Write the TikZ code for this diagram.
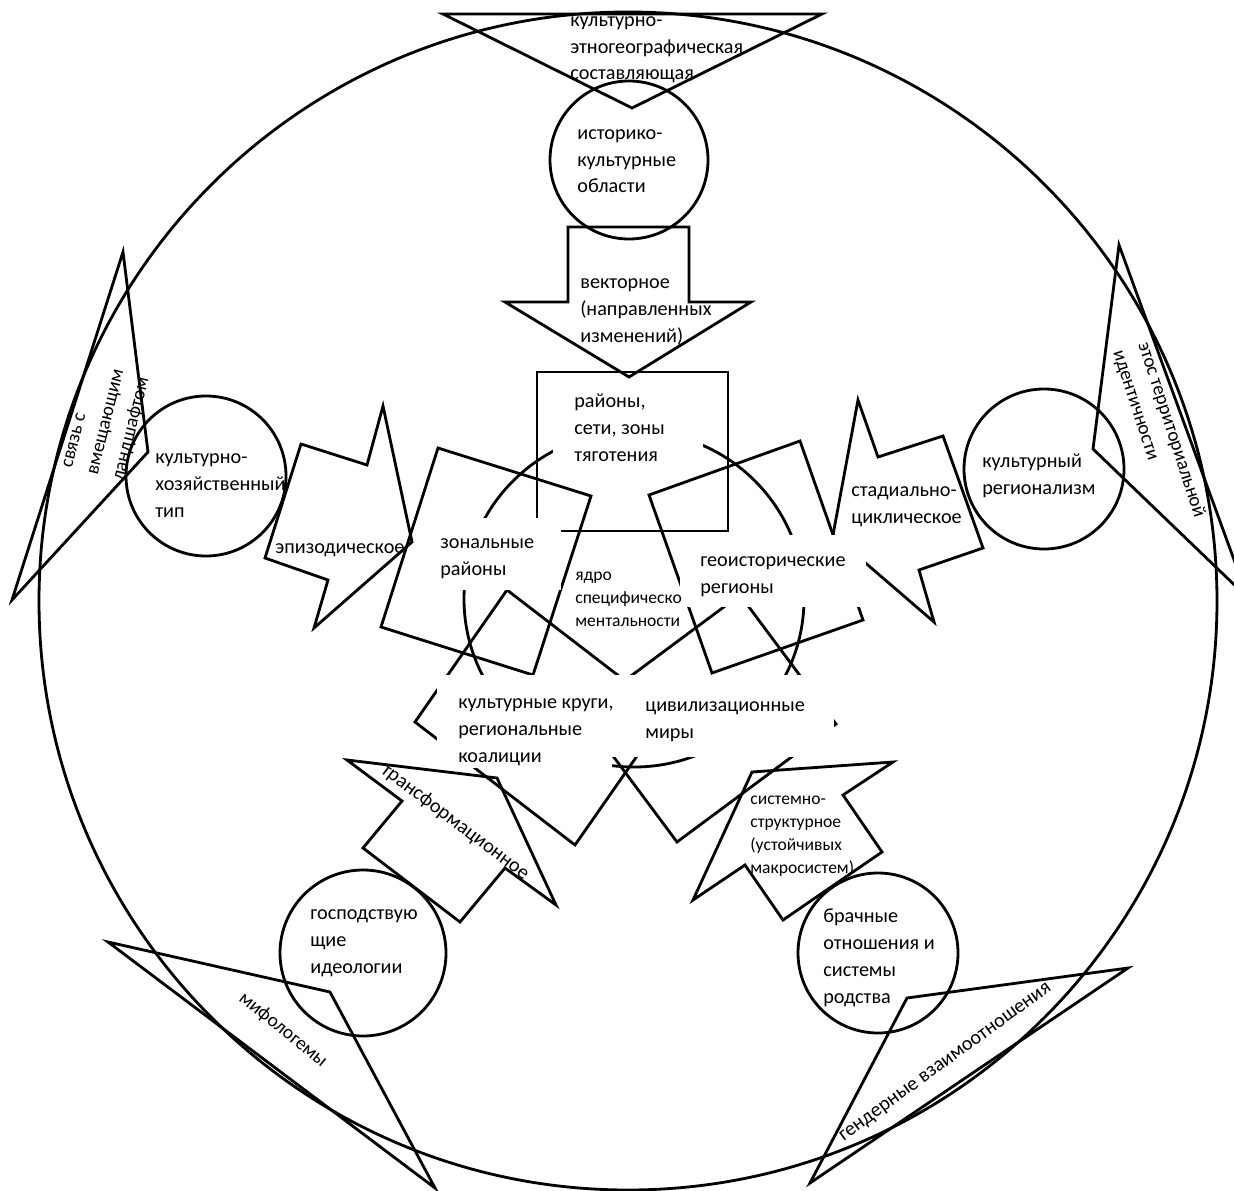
\documentclass[tikz,border=0pt]{standalone}
\usepackage{fontspec}
\setmainfont{Carlito}
\usetikzlibrary{positioning}

\tikzset{
  shape line/.style={draw=black,line width=1.6pt,line join=miter},
  text cover/.style={fill=white,draw=none},
  lbl/.style={align=left,inner sep=0pt,anchor=base west,
    font=\fontsize{11.5}{15.2}\selectfont},
  small lbl/.style={lbl,font=\fontsize{10}{13}\selectfont},
  turned lbl/.style={inner sep=0pt,font=\fontsize{11}{15}\selectfont},
}

\begin{document}
\begin{tikzpicture}[x=0.2mm,y=-0.2mm]
  \useasboundingbox (0,0) rectangle (1234,1191);

  % outer ring
  \draw[shape line] (628,601) circle [radius=589];

  % triangles on the ring
  \draw[shape line] (443,14) -- (822,14) -- (632,108) -- cycle;
  \draw[shape line] (123,252) -- (148,452) -- (12,600) -- cycle;
  \draw[shape line] (1119,245) -- (1093,449) -- (1248,598) -- cycle;
  \draw[shape line] (108,942) -- (330,992) -- (435,1188) -- cycle;
  \draw[shape line] (1128,968) -- (907,998) -- (810,1183) -- cycle;

  % circles
  \draw[shape line] (629,160) circle [radius=79];
  \draw[shape line] (206,476) circle [radius=80];
  \draw[shape line] (1044,469) circle [radius=80];
  \draw[shape line] (363,953) circle [radius=83];
  \draw[shape line] (878,953) circle [radius=80];

  % block arrows
  \draw[shape line] (568,227) -- (689,227) -- (689,302) -- (751,302)
    -- (629,377) -- (505,302) -- (568,302) -- cycle;
  \draw[shape line] (412,542) -- (383,406) -- (367,465) -- (301,444)
    -- (265,558) -- (328,580) -- (314,628) -- cycle;
  \draw[shape line] (833,535) -- (858,400) -- (878,457) -- (943,436)
    -- (983,548) -- (919,570) -- (934,622) -- cycle;
  \draw[shape line] (497,778) -- (347,760) -- (402,801) -- (363,848)
    -- (460,922) -- (505,868) -- (556,905) -- cycle;
  \draw[shape line] (752,772) -- (893,762) -- (843,795) -- (882,852)
    -- (783,920) -- (745,865) -- (693,900) -- cycle;

  % rectangles round the core
  \draw[shape line] (537,372) rectangle (728,531);
  \draw[shape line] (438,448) -- (591,496) -- (533,675) -- (381,627) -- cycle;
  \draw[shape line] (649,495) -- (800,441) -- (863,620) -- (712,673) -- cycle;
  \draw[shape line] (507,590) -- (667,713) -- (575,845) -- (415,722) -- cycle;
  \draw[shape line] (740,595) -- (836,724) -- (677,842) -- (581,713) -- cycle;

  % core
  \draw[shape line] (634,599) ellipse [x radius=170,y radius=168];

  % white text boxes
  \fill[text cover] (553,383) rectangle (703,470);
  \fill[text cover] (425,518) rectangle (561,590);
  \fill[text cover] (680,535) rectangle (866,607);
  \fill[text cover] (437,675) rectangle (612,768);
  \fill[text cover] (612,675) rectangle (834,757);

  % labels
  \node[lbl] (tTri) at (570,80) {культурно-\\этногеографическая\\составляющая};
  \node[lbl] (tCirc) at (577,193) {историко-\\культурные\\области};
  \node[lbl] (tArr) at (580,342) {векторное\\(направленных\\изменений)};
  \node[lbl] (tBox) at (574,461) {районы,\\сети, зоны\\тяготения};
  \node[lbl] (lBox) at (440,575) {зональные\\районы};
  \node[small lbl] (core) at (575,626) {ядро\\специфическо\\ментальности};
  \node[lbl] (rBox) at (700,593) {геоисторические\\регионы};
  \node[lbl] (lCirc) at (155,517) {культурно-\\хозяйственный\\тип};
  \node[lbl] (lArr) at (275,553) {эпизодическое};
  \node[lbl] (rArr) at (851,523) {стадиально-\\циклическое};
  \node[lbl] (rCirc) at (982,494) {культурный\\регионализм};
  \node[lbl] (blBox) at (458,762) {культурные круги,\\региональные\\коалиции};
  \node[lbl] (brBox) at (645,738) {цивилизационные\\миры};
  \node[small lbl] (brArr) at (750,873) {системно-\\структурное\\(устойчивых\\макросистем)};
  \node[lbl] (blCirc) at (310,973) {господствую\\щие\\идеологии};
  \node[lbl] (brCirc) at (823,1003) {брачные\\отношения и\\системы\\родства};
  \node[turned lbl,align=left,anchor=base west,rotate=76] (lTri) at (123,482)
    {связь с\\вмещающим\\ландшафтом};
  \node[turned lbl,align=left,anchor=base west,rotate=-72] (rTri) at (1113,352)
    {этос территориальной\\идентичности};
  \node[turned lbl,rotate=-39] (blTri) at (283,1030) {мифологемы};
  \node[turned lbl,rotate=36,font=\fontsize{11.5}{15}\selectfont] (brTri)
    at (946,1063) {гендерные взаимоотношения};
  \node[turned lbl,rotate=-37,font=\fontsize{11.5}{15}\selectfont] (blArr)
    at (455,822) {трансформационное};
\end{tikzpicture}
\end{document}
